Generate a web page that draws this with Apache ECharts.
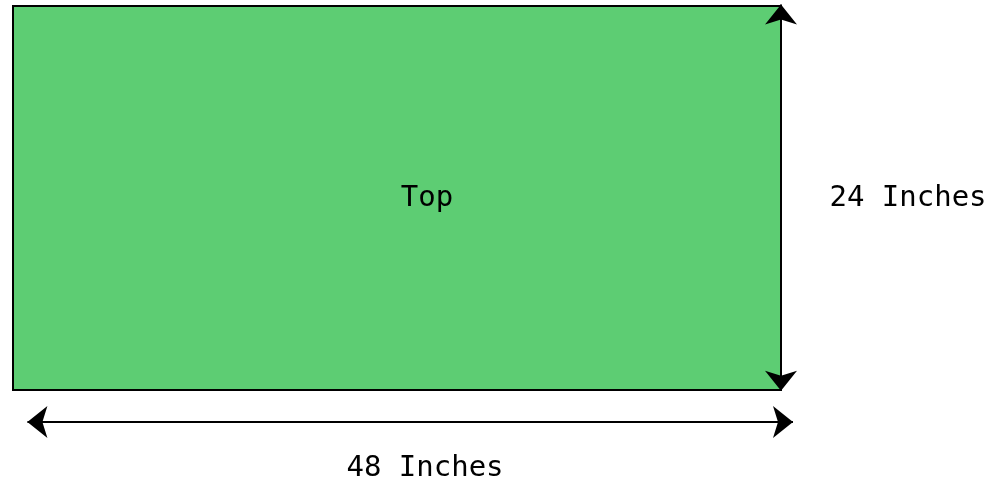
<!DOCTYPE html>
<html>
<head>
<meta charset="utf-8">
<script src="https://cdn.jsdelivr.net/npm/echarts@6/dist/echarts.min.js"></script>
<style>html,body{margin:0;padding:0;background:#fff}#c{width:992px;height:485px}</style>
</head>
<body>
<div id="c"></div>
<script>
// Dimensions in inches
const widthInches = 48;
const heightInches = 24;
const panelName = 'Top';
const widthLabel = '48 Inches';
const heightLabel = '24 Inches';

const chart = echarts.init(document.getElementById('c'), null, {renderer: 'canvas'});
const font = '"DejaVu Sans Mono", monospace';

// label anchors in data units, with pixel nudges
const labels = [
  {name: panelName, at: [widthInches / 2, heightInches / 2], dx: 30, dy: 0},
  {name: heightLabel, at: [widthInches, heightInches / 2], dx: 127, dy: 0},
  {name: widthLabel, at: [widthInches / 2, 0], dx: 28, dy: 78}
];

chart.setOption({
  animation: false,
  grid: {left: 13, right: 3, top: 0, bottom: 15},
  xAxis: {type: 'value', min: 0, max: 61, show: false},
  yAxis: {type: 'value', min: -5, max: 24.375, show: false},
  series: [
    {
      type: 'custom',
      clip: false,
      silent: true,
      data: [[0, 0, widthInches, heightInches]],
      renderItem: function (params, api) {
        const p0 = api.coord([api.value(0), api.value(3)]);
        const p1 = api.coord([api.value(2), api.value(1)]);
        return {
          type: 'rect',
          shape: {x: p0[0], y: p0[1], width: p1[0] - p0[0], height: p1[1] - p0[1]},
          style: {fill: '#5dcd73', stroke: '#000', lineWidth: 2}
        };
      },
      markLine: {
        silent: true,
        symbol: ['arrow', 'arrow'],
        symbolSize: [24, 20],
        label: {show: false},
        lineStyle: {color: '#000', width: 2, type: 'solid'},
        data: [
          [{coord: [widthInches, -0.05]}, {coord: [widthInches, heightInches + 0.1]}],
          [{coord: [0.9, -2]}, {coord: [widthInches + 0.75, -2]}]
        ]
      }
    },
    {
      type: 'custom',
      clip: false,
      silent: true,
      data: labels.map(l => [l.at[0], l.at[1]]),
      renderItem: function (params, api) {
        const l = labels[params.dataIndex];
        const p = api.coord([api.value(0), api.value(1)]);
        return {
          type: 'text',
          x: p[0] + l.dx,
          y: p[1] + l.dy,
          style: {
            text: l.name,
            fill: '#000',
            font: '29px ' + font,
            align: 'center',
            verticalAlign: 'middle'
          }
        };
      }
    }
  ]
});
</script>
</body>
</html>
